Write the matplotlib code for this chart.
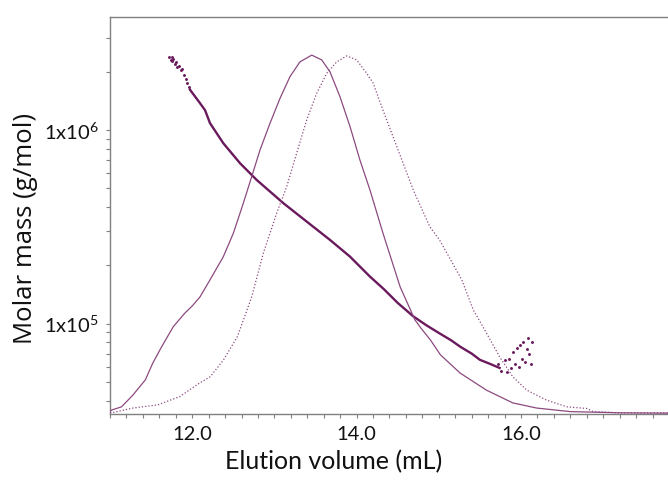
import matplotlib
matplotlib.use("Agg")
import matplotlib.pyplot as plt
from matplotlib.ticker import LogLocator, MultipleLocator, FixedLocator, FixedFormatter, NullFormatter

# ---------------- data ----------------
# Molar mass (g/mol) vs elution volume (mL) - main dense trace
mm_x = [11.973, 12.095, 12.156, 12.217, 12.378, 12.582, 12.785, 13.108, 13.393, 13.676, 13.92, 14.163,
        14.33, 14.50, 14.69, 14.85, 15.01, 15.15, 15.26, 15.40, 15.50, 15.62, 15.74]
mm_y = [1.62e6, 1.38e6, 1.27e6, 1.087e6, 8.57e5, 6.75e5, 5.53e5, 4.20e5, 3.37e5, 2.71e5, 2.22e5, 1.75e5,
        1.51e5, 1.28e5, 1.09e5, 9.8e4, 8.9e4, 8.2e4, 7.6e4, 7.0e4, 6.5e4, 6.2e4, 5.9e4]
# noisy molar mass points at the beginning
mm_head_x = [11.72, 11.74, 11.75, 11.76, 11.77, 11.79, 11.80, 11.82, 11.84, 11.86, 11.88, 11.90,
             11.92, 11.94, 11.96]
mm_head_y = [2.4e6, 2.32e6, 2.38e6, 2.28e6, 2.33e6, 2.2e6, 2.25e6, 2.12e6, 2.15e6, 2.05e6, 2.08e6, 1.92e6,
             1.85e6, 1.75e6, 1.68e6]
# noisy molar mass points at the tail
mm_tail_x = [15.72, 15.76, 15.80, 15.83, 15.86, 15.88, 15.90, 15.93, 15.95, 15.97, 15.99, 16.01,
             16.03, 16.05, 16.07, 16.09, 16.10, 16.12, 16.13]
mm_tail_y = [6.2e4, 5.7e4, 6.5e4, 5.6e4, 6.6e4, 5.9e4, 7.1e4, 6.2e4, 7.5e4, 6.0e4, 7.8e4, 6.6e4,
             8.0e4, 6.3e4, 7.4e4, 8.4e4, 7.0e4, 6.2e4, 8.0e4]

# detector trace 1 (solid), relative signal
solid_x = [11.00, 11.02, 11.14, 11.28, 11.43, 11.52, 11.63, 11.77, 11.91, 12.00, 12.095, 12.217,
           12.378, 12.50, 12.622, 12.724, 12.825, 12.946, 13.068, 13.19, 13.311, 13.454, 13.575,
           13.676, 13.798, 13.92, 14.04, 14.163, 14.32, 14.53, 14.71, 14.78, 14.90, 15.02, 15.26,
           15.58, 15.90, 16.19, 16.60, 17.21, 17.82]
solid_y = [0.007, 0.010, 0.018, 0.048, 0.086, 0.128, 0.170, 0.220, 0.254, 0.272, 0.295, 0.338,
           0.396, 0.455, 0.531, 0.598, 0.665, 0.732, 0.795, 0.850, 0.887, 0.904, 0.892,
           0.862, 0.799, 0.724, 0.640, 0.564, 0.456, 0.320, 0.237, 0.217, 0.186, 0.149, 0.103,
           0.060, 0.028, 0.015, 0.006, 0.003, 0.002]

# detector trace 2 (dotted), relative signal
dot_x = [11.00, 11.02, 11.28, 11.58, 11.85, 12.09, 12.22, 12.38, 12.55, 12.724, 12.865, 13.028,
         13.15, 13.271, 13.393, 13.515, 13.636, 13.758, 13.88, 14.00, 14.123, 14.20, 14.32, 14.49,
         14.69, 14.89, 15.01, 15.28, 15.42, 15.58, 15.74, 15.90, 16.07, 16.31, 16.56, 16.80,
         16.88, 17.20, 17.82]
dot_y = [0.004, 0.003, 0.015, 0.023, 0.044, 0.078, 0.094, 0.136, 0.195, 0.295, 0.405, 0.506,
         0.573, 0.657, 0.741, 0.808, 0.858, 0.887, 0.902, 0.892, 0.858, 0.834, 0.766, 0.673,
         0.564, 0.472, 0.438, 0.338, 0.262, 0.204, 0.144, 0.094, 0.060, 0.035, 0.018, 0.014,
         0.006, 0.003, 0.003]

x_ticks = [12.0, 14.0, 16.0]
x_tick_labels = ["12.0", "14.0", "16.0"]
y_ticks = [1e5, 1e6]
y_tick_labels = ["1x10$^{5}$", "1x10$^{6}$"]

# ---------------- style ----------------
plt.rcParams['font.family'] = ['Lato', 'DejaVu Sans']
plt.rcParams['mathtext.fontset'] = 'custom'
plt.rcParams['mathtext.rm'] = 'Lato'
plt.rcParams['mathtext.default'] = 'regular'

mm_color = '#6a1a5c'
trace_color = '#8c4a80'
spine_color = '#808080'

fig = plt.figure(figsize=(6.68, 4.8), dpi=100)
ax = fig.add_axes([110/668, 66/480, 560/668, 397/480])
ax2 = ax.twinx()

ax.set_yscale('log')
ax.set_xlim(11.0, 11.0 + 560/82.2)
ax.set_ylim(3.41e4, 3.85e6)
ax2.set_ylim(0, 1)
ax2.axis('off')

ax2.plot(solid_x, solid_y, color=trace_color, lw=0.9, solid_joinstyle='round')
ax2.plot(dot_x, dot_y, color=trace_color, lw=0.9, linestyle=(0, (1, 1.6)))

ax.plot(mm_x, mm_y, color=mm_color, lw=1.7, zorder=3, solid_joinstyle='round')
ax.plot(mm_head_x, mm_head_y, linestyle='none', marker='.', ms=2.2, color=mm_color, zorder=3)
ax.plot(mm_tail_x, mm_tail_y, linestyle='none', marker='.', ms=2.2, color=mm_color, zorder=3)

for s in ['left', 'bottom', 'top']:
    ax.spines[s].set_color(spine_color)
    ax.spines[s].set_linewidth(1.0)
ax.spines['right'].set_visible(False)

ax.xaxis.set_major_locator(FixedLocator(x_ticks))
ax.xaxis.set_major_formatter(FixedFormatter(x_tick_labels))
ax.xaxis.set_minor_locator(MultipleLocator(0.2))
ax.yaxis.set_major_locator(FixedLocator(y_ticks))
ax.yaxis.set_major_formatter(FixedFormatter(y_tick_labels))
ax.yaxis.set_minor_locator(LogLocator(base=10, subs=[2, 3, 4, 5, 6, 7, 8, 9]))
ax.yaxis.set_minor_formatter(NullFormatter())

ax.tick_params(axis='both', which='both', direction='out', color=spine_color, width=0.8,
               length=3, labelsize=14.5, labelcolor='#111111')
ax.tick_params(axis='x', which='major', pad=6)
ax.tick_params(axis='y', which='major', pad=5)

ax.set_xlabel('Elution volume (mL)', fontsize=18, color='#111111')
ax.xaxis.set_label_coords((334 - 110) / 560, -(462 - 414) / 397)
ax.xaxis.label.set_va('center')
ax.set_ylabel('Molar mass (g/mol)', fontsize=18.5, family=['Open Sans', 'DejaVu Sans'], color='#111111')
ax.yaxis.set_label_coords(-(110 - 26) / 560, (414 - 228) / 397)
ax.yaxis.label.set_va('center')

fig.savefig('out.png', dpi=100)
